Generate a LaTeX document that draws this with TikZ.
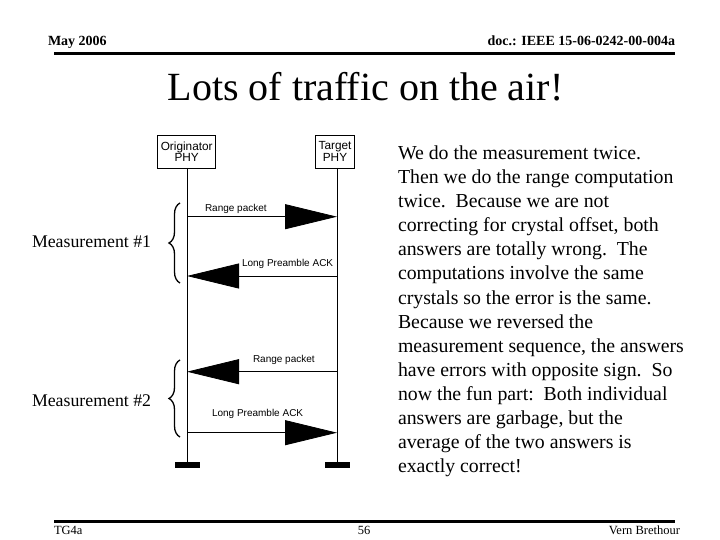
\documentclass[tikz,border=0pt]{standalone}
\usepackage{fontspec}
\setmainfont{Liberation Serif}
\newfontfamily\arialf{Liberation Sans}
\usetikzlibrary{arrows.meta,decorations.pathreplacing}
\begin{document}
\begin{tikzpicture}[x=1bp,y=-1bp,
  every node/.style={inner sep=0pt,outer sep=0pt},
  phybox/.style={draw,line width=0.8bp,minimum width=58bp,align=center,font=\arialf\fontsize{11.8bp}{11.5bp}\selectfont},
  msglabel/.style={anchor=base west,font=\arialf\fontsize{10bp}{12bp}\selectfont},
  lifeline/.style={line width=0.8bp},
  msg/.style={line width=0.8bp,-{Triangle[length=52bp,width=25bp]}},
  endbar/.style={fill=black,minimum width=25bp,minimum height=6bp},
  bodytext/.style={anchor=base west,font=\fontsize{19.8bp}{24bp}\selectfont},
  measlabel/.style={anchor=base west,font=\fontsize{17.8bp}{22bp}\selectfont},
  bracestyle/.style={line width=1.3bp,decorate,decoration={brace,amplitude=11bp}},
  rule/.style={line width=3bp}]
\useasboundingbox (0,0) rectangle (720,540);
\fill[white] (0,0) rectangle (720,540);

% header
\node[anchor=base west,font=\bfseries\fontsize{14bp}{16bp}\selectfont] (hdl) at (48,46) {May 2006};
\node[anchor=base east,font=\bfseries\fontsize{14bp}{16bp}\selectfont] (hdr) at (675,46) {doc.: IEEE 15-06-0242-00-004a};
\coordinate (hl1) at (54,53.5); \coordinate (hl2) at (675,53.5);
\draw[rule] (hl1) -- (hl2);

% title
\node[font=\fontsize{40bp}{44bp}\selectfont,anchor=base] (title) at (365.5,101) {Lots of traffic on the air!};

% PHY boxes
\node[phybox,minimum width=58bp,minimum height=33bp] (orig) at (186.7,151.5) {Originator\\PHY};
\node[phybox,minimum width=38.5bp,minimum height=33bp] (targ) at (335,151.5) {Target\\PHY};

% lifelines
\coordinate (oend) at (187,465);
\coordinate (tend) at (337,465);
\draw[lifeline] (orig.south -| oend) -- (oend);
\draw[lifeline] (targ.south -| tend) -- (tend);
\node[endbar] (obar) at (oend) {};
\node[endbar] (tbar) at (tend) {};

% messages
\coordinate (o1) at (187,216.7); \coordinate (t1) at (337,216.7);
\coordinate (o2) at (187,276);   \coordinate (t2) at (337,276);
\coordinate (o3) at (187,371.7); \coordinate (t3) at (337,371.7);
\coordinate (o4) at (187,432.7); \coordinate (t4) at (337,432.7);
\draw[msg] (o1) -- (t1);
\draw[msg] (t2) -- (o2);
\draw[msg] (t3) -- (o3);
\draw[msg] (o4) -- (t4);
\node[msglabel] (l1) at (205,212) {Range packet};
\node[msglabel] (l2) at (242,267) {Long Preamble ACK};
\node[msglabel] (l3) at (253,362) {Range packet};
\node[msglabel] (l4) at (212,416) {Long Preamble ACK};

% braces
\coordinate (b1a) at (180,283); \coordinate (b1b) at (180,203);
\coordinate (b2a) at (180,437); \coordinate (b2b) at (180,360);
\draw[bracestyle] (b1a) -- (b1b);
\draw[bracestyle] (b2a) -- (b2b);
\node[measlabel] (m1) at (32,248) {Measurement \#1};
\node[measlabel] (m2) at (32,406) {Measurement \#2};

% right text
\node[bodytext] (r1) at (398,160) {We do the measurement twice.};
\node[bodytext] (r2) at (398,184) {Then we do the range computation};
\node[bodytext] (r3) at (398,208) {twice.\ \ Because we are not};
\node[bodytext] (r4) at (398,232) {correcting for crystal offset, both};
\node[bodytext] (r5) at (398,256) {answers are totally wrong.\ \ The};
\node[bodytext] (r6) at (398,280) {computations involve the same};
\node[bodytext] (r7) at (398,304) {crystals so the error is the same.};
\node[bodytext] (r8) at (398,328) {Because we reversed the};
\node[bodytext] (r9) at (398,352) {measurement sequence, the answers};
\node[bodytext] (r10) at (398,376) {have errors with opposite sign.\ \ So};
\node[bodytext] (r11) at (398,400) {now the fun part:\ \ Both individual};
\node[bodytext] (r12) at (398,424) {answers are garbage, but the};
\node[bodytext] (r13) at (398,448) {average of the two answers is};
\node[bodytext] (r14) at (398,472) {exactly correct!};

% footer
\coordinate (fl1) at (54,521.5); \coordinate (fl2) at (675,521.5);
\draw[rule] (fl1) -- (fl2);
\node[anchor=base west,font=\fontsize{12.5bp}{14bp}\selectfont] (ftl) at (54,534) {TG4a};
\node[anchor=base,font=\fontsize{12.5bp}{14bp}\selectfont] (ftc) at (364,534) {56};
\node[anchor=base east,font=\fontsize{12.5bp}{14bp}\selectfont] (ftr) at (680,534) {Vern Brethour};
\end{tikzpicture}
\end{document}
